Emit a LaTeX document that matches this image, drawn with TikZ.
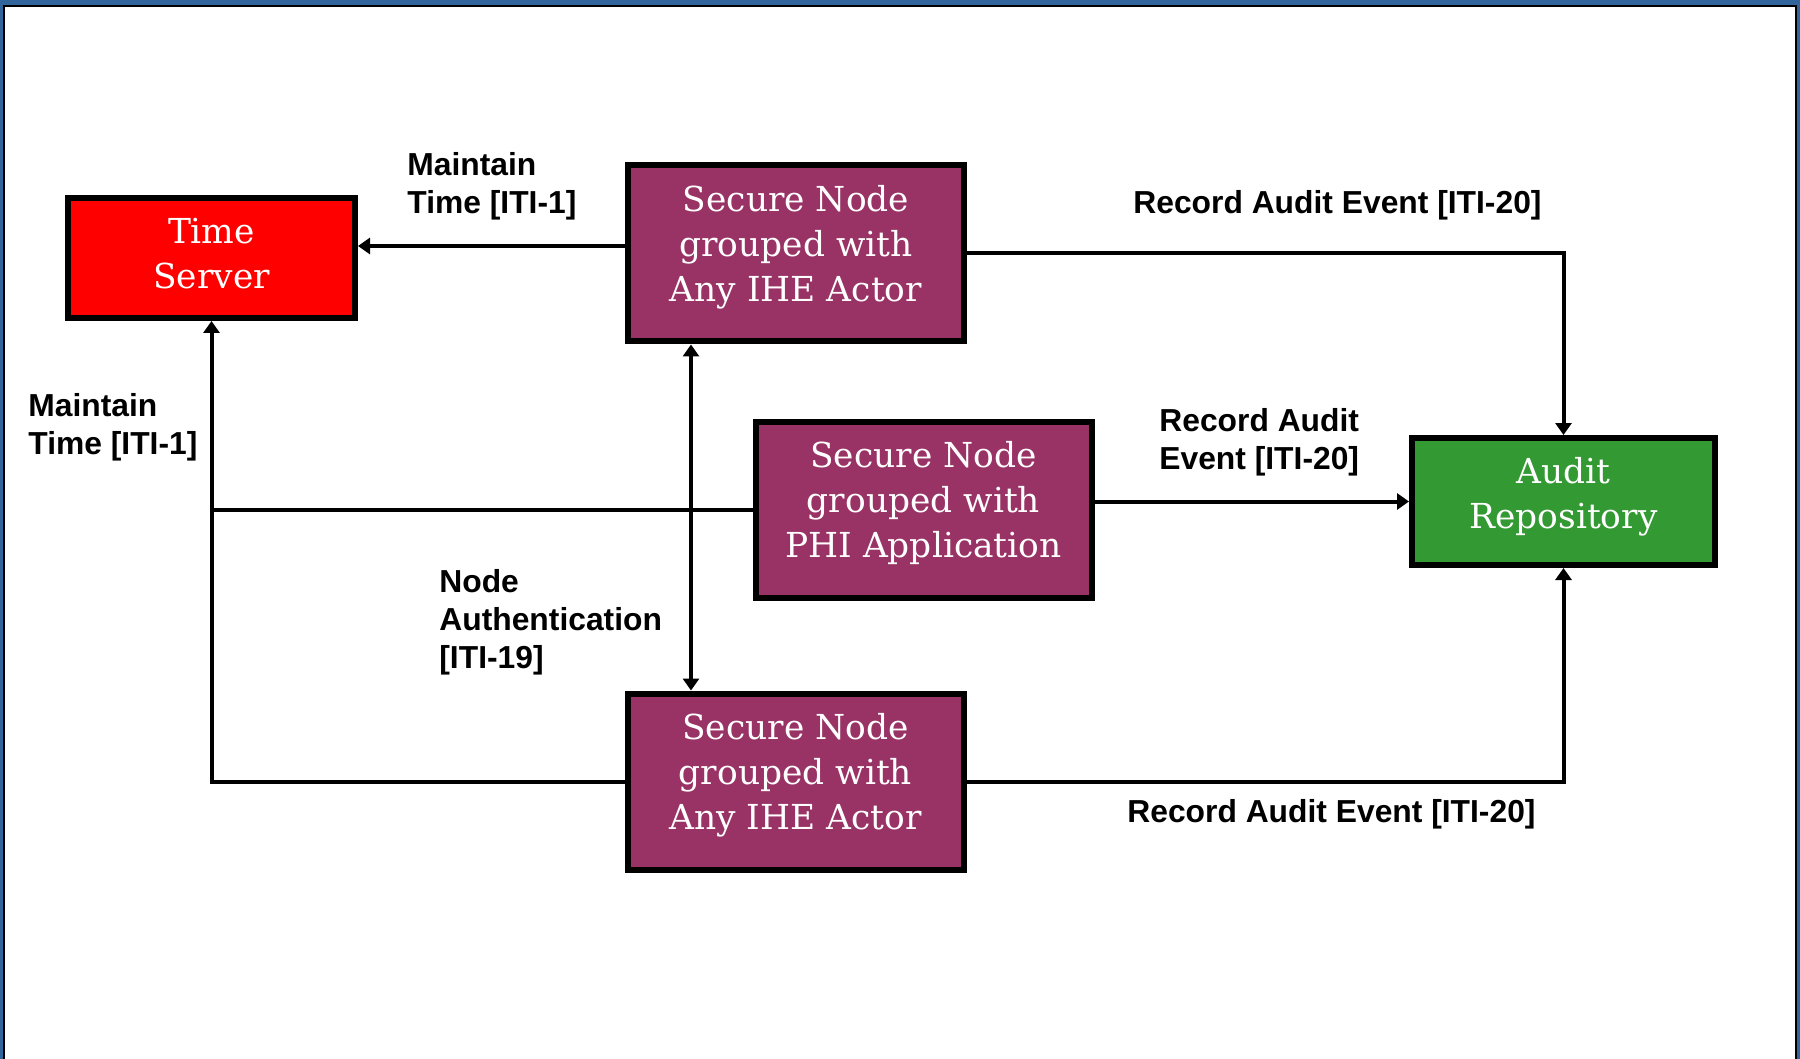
\documentclass[tikz,border=0pt]{standalone}
\usepackage{fontspec}
\setmainfont{DejaVu Serif}
\newfontfamily\labelfont{Liberation Sans}
\usetikzlibrary{arrows.meta}

\definecolor{framebl}{HTML}{31659B}
\definecolor{nodepurple}{HTML}{993366}
\definecolor{serverred}{HTML}{FF0000}
\definecolor{repogreen}{HTML}{339933}

\begin{document}
\begin{tikzpicture}[x=0.5pt, y=-0.5pt, >={Triangle[length=6pt,width=8pt]},
    actor/.style={draw=black, line width=3pt, text=white, align=center, inner sep=0pt,
      font=\fontsize{17.2}{22.5}\selectfont},
    secure/.style={actor, fill=nodepurple, minimum width=168pt, minimum height=88pt, text depth=10pt},
    link/.style={line width=2pt},
    lbl/.style={font=\labelfont\bfseries\fontsize{15.9}{19}\selectfont, align=left,
      anchor=north west, inner sep=0pt}]
    \useasboundingbox (0,0) rectangle (1800,1059);

    % frame
    \fill[framebl] (0,0) rectangle (1800,1059);
    \fill[black] (3,5) rectangle (1797,1059);
    \fill[white] (5,7) rectangle (1795,1059);

    % actors
    \node[actor, fill=serverred, minimum width=143.5pt, minimum height=60pt, text depth=4.2pt] (ts) at (211.5,258) {Time\\Server};
    \node[secure] (sn1) at (796,253.5) {Secure Node\\grouped with\\Any IHE Actor};
    \node[secure] (phi) at (923.5,509.5) {Secure Node\\grouped with\\PHI Application};
    \node[secure] (sn3) at (795.5,781.5) {Secure Node\\grouped with\\Any IHE Actor};
    \node[actor, fill=repogreen, minimum width=151.5pt, minimum height=63.5pt, text depth=9pt] (ar) at (1563.5,501.5) {Audit\\Repository};

    % maintain time
    \draw[link,->] (sn1.west |- 0,246) -- (ts.east |- 0,246);
    \draw[link,->] (sn3.west) -| (ts.south);
    \draw[link] (phi.west) -- (phi.west -| ts.south);

    % node authentication
    \draw[link,<->] (sn1.south -| 691,0) -- (sn3.north -| 691,0);

    % record audit event
    \draw[link,->] (sn1.east) -| (ar.north);
    \draw[link,->] (phi.east |- ar.west) -- (ar.west);
    \draw[link,->] (sn3.east) -| (ar.south);

    % labels
    \node[lbl] (lmt1) at (407,152) {Maintain\\{}Time [ITI-1]};
    \node[lbl] (lmt2) at (28,393) {Maintain\\{}Time [ITI-1]};
    \node[lbl] (lna) at (439,569) {Node\\{}Authentication\\{}[ITI-19]};
    \node[lbl] (lrae1) at (1133,190) {Record Audit Event [ITI-20]};
    \node[lbl] (lrae2) at (1159,408) {Record Audit\\{}Event [ITI-20]};
    \node[lbl] (lrae3) at (1127,799) {Record Audit Event [ITI-20]};
\end{tikzpicture}
\end{document}
